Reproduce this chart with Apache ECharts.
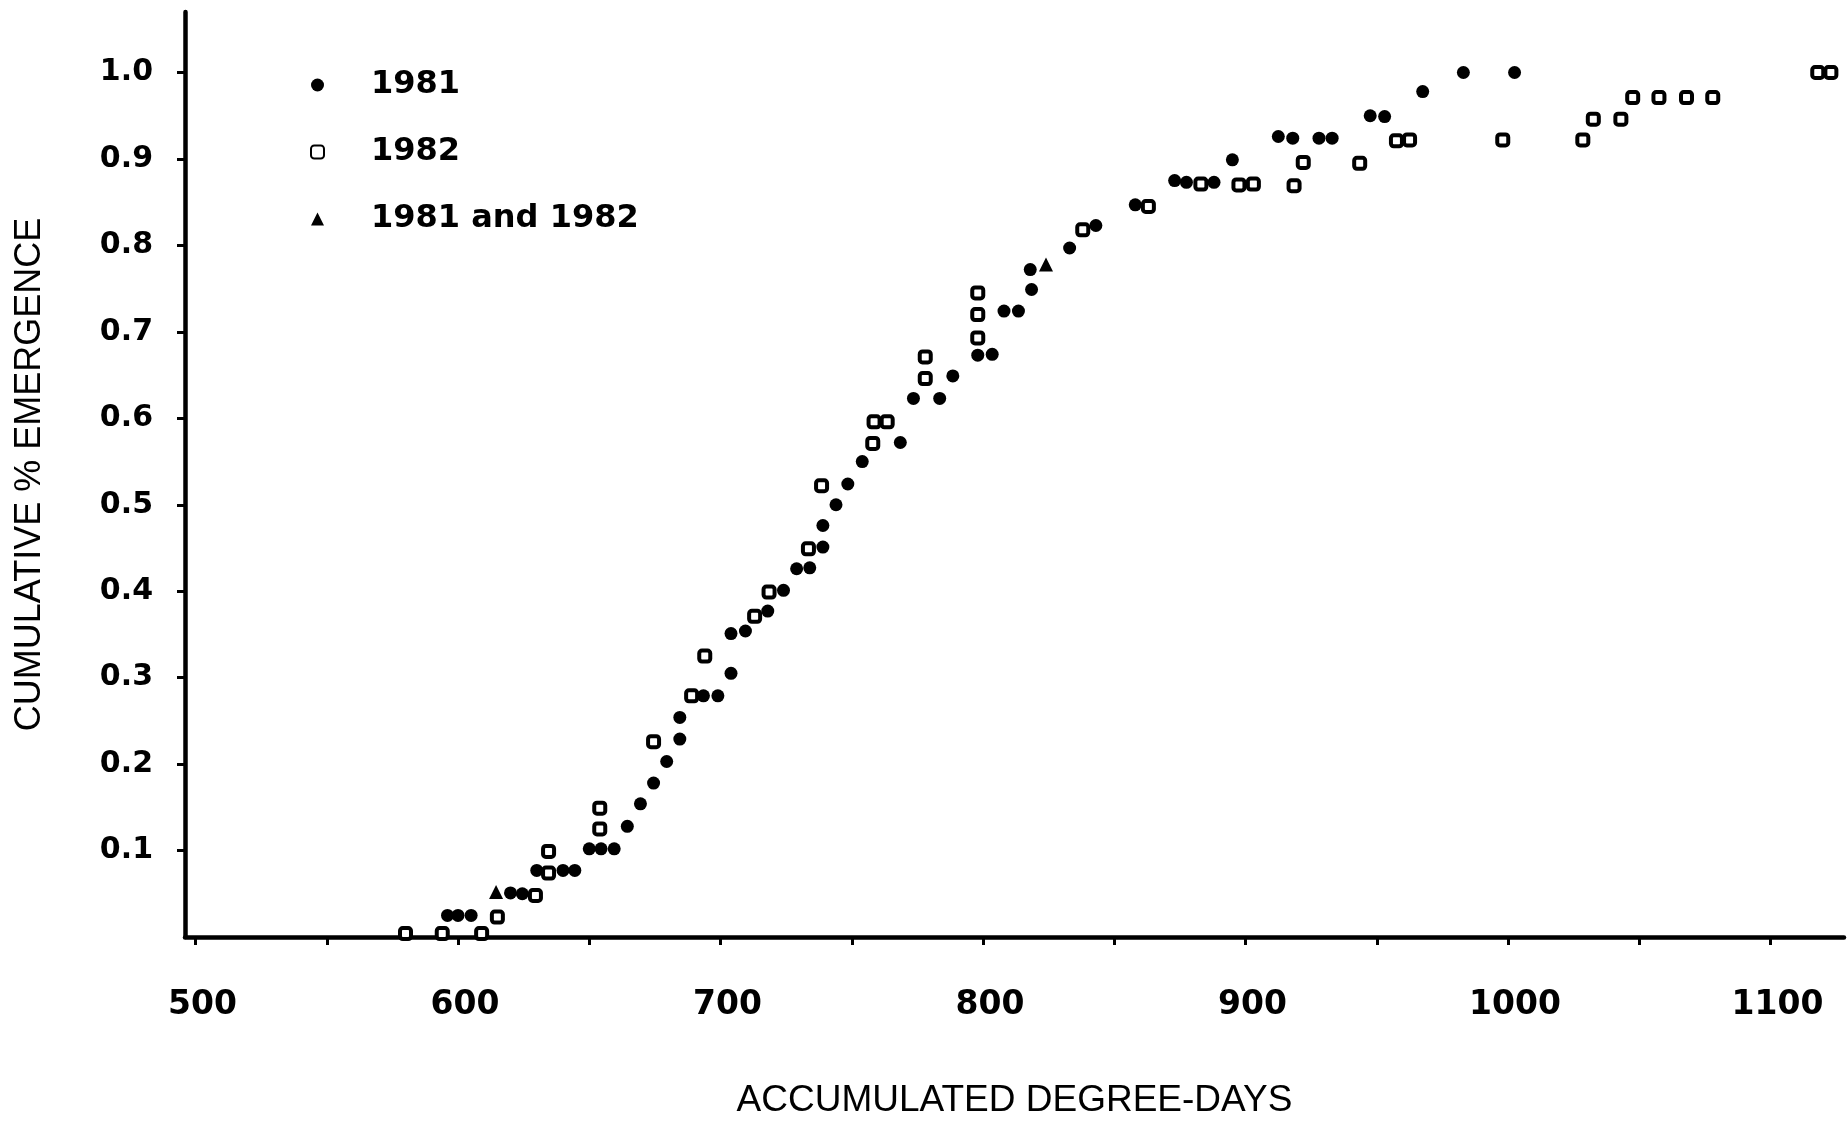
<!DOCTYPE html>
<html>
<head>
    <meta charset="UTF-8">
    <title>Cumulative emergence vs degree-days</title>
</head>
<body style="margin: 0;overflow: hidden;background: #fff;">
<div id="chart" style="width: 1848px;height: 1125px"></div>

<script type="text/javascript" src="https://cdn.jsdelivr.net/npm/echarts@6/dist/echarts.min.js"></script>
<script>
    // accumulated degree-days (x) and cumulative emergence (y)
    var x1981 = [596, 600, 605, 620, 624.5, 630, 640, 644.5, 650, 654.5, 659.5, 664.5, 669.5, 674.5, 679.5, 684.5,
        684.5, 693.5, 699, 704, 704, 709.5, 718, 724, 729, 734, 739, 739, 744, 748.5, 754, 768.5,
        773.5, 783.5, 788.5, 798, 803.5, 808, 813.5, 818.5, 818, 833, 843, 858, 873, 877.5, 888, 895,
        912.5, 918, 928, 933, 947.5, 953, 967.5, 983, 1002.5];
    var y1981 = [0.025, 0.025, 0.025, 0.051, 0.05, 0.077, 0.077, 0.077, 0.102, 0.102, 0.102, 0.128, 0.154, 0.178, 0.203, 0.229,
        0.254, 0.279, 0.279, 0.305, 0.351, 0.354, 0.377, 0.401, 0.426, 0.427, 0.451, 0.476, 0.5, 0.524, 0.55, 0.572,
        0.623, 0.623, 0.649, 0.673, 0.674, 0.724, 0.724, 0.749, 0.772, 0.797, 0.823, 0.847, 0.875, 0.873, 0.873, 0.899,
        0.926, 0.924, 0.924, 0.924, 0.95, 0.949, 0.978, 1.0, 1.0];

    var x1982 = [580, 594, 609, 615, 629.5, 634.5, 634.5, 654, 654, 674.5, 689, 694, 713, 718.5, 733.5, 738.5,
        758, 758.5, 763.5, 778, 778, 798, 798, 798, 838, 863, 883, 897.5, 903, 918.5, 922, 943.5,
        957.5, 962.5, 998, 1028.5, 1032.5, 1043, 1047.5, 1057.5, 1068, 1078, 1118, 1123];
    var y1982 = [0.004, 0.004, 0.004, 0.023, 0.048, 0.074, 0.099, 0.125, 0.149, 0.226, 0.279, 0.325, 0.371, 0.399, 0.449, 0.522,
        0.571, 0.596, 0.596, 0.646, 0.671, 0.693, 0.72, 0.745, 0.818, 0.845, 0.871, 0.87, 0.871, 0.869, 0.896, 0.895,
        0.921, 0.922, 0.922, 0.922, 0.946, 0.946, 0.971, 0.971, 0.971, 0.971, 1.0, 1.0];

    var xBoth = [614.5, 824];
    var yBoth = [0.052, 0.778];

    var xTickValues = [500, 550, 600, 650, 700, 750, 800, 850, 900, 950, 1000, 1050, 1100];
    var xLabelValues = [500, 600, 700, 800, 900, 1000, 1100];
    var yTickValues = [0.1, 0.2, 0.3, 0.4, 0.5, 0.6, 0.7, 0.8, 0.9, 1.0];

    function pairs(xs, ys) {
        return xs.map(function (x, i) {
            return [x, ys[i]];
        });
    }

    var chart = echarts.init(document.getElementById('chart'));
    var option = {
        backgroundColor: '#fff',
        animation: false,
        grid: {
            left: 185,
            right: 4,
            top: 12,
            bottom: 188
        },
        legend: {
            orient: 'vertical',
            left: 305,
            top: 60,
            itemWidth: 13,
            itemHeight: 13,
            itemGap: 27,
            textStyle: {
                color: '#000',
                fontFamily: 'DejaVu Sans',
                fontWeight: 'bold',
                fontSize: 32,
                lineHeight: 40,
                padding: [0, 0, 0, 42]
            },
            data: [
                {name: '1981', icon: 'circle'},
                {name: '1982', icon: 'roundRect'},
                {name: '1981 and 1982', icon: 'triangle'}
            ]
        },
        xAxis: {
            type: 'value',
            min: 496,
            max: 1128,
            name: 'ACCUMULATED DEGREE-DAYS',
            nameLocation: 'middle',
            nameGap: 145,
            nameTextStyle: {
                color: '#000',
                fontFamily: 'Liberation Sans',
                fontSize: 37
            },
            splitLine: {show: false},
            axisLine: {lineStyle: {color: '#000', width: 4.5}},
            axisTick: {
                customValues: xTickValues,
                length: 8,
                lineStyle: {color: '#000', width: 3}
            },
            axisLabel: {
                customValues: xLabelValues,
                margin: 52,
                color: '#000',
                fontFamily: 'DejaVu Sans',
                fontWeight: 'bold',
                fontSize: 33,
                padding: [0, 0, 0, 14],
                formatter: function (v) {
                    return String(v);
                }
            }
        },
        yAxis: {
            type: 'value',
            min: 0,
            max: 1.07,
            name: 'CUMULATIVE % EMERGENCE',
            nameLocation: 'middle',
            nameGap: 137,
            nameTextStyle: {
                color: '#000',
                fontFamily: 'Liberation Sans',
                fontSize: 36
            },
            splitLine: {show: false},
            axisLine: {lineStyle: {color: '#000', width: 4.5}},
            axisTick: {
                customValues: yTickValues,
                length: 8,
                lineStyle: {color: '#000', width: 3}
            },
            axisLabel: {
                customValues: yTickValues,
                margin: 32,
                color: '#000',
                fontFamily: 'DejaVu Sans',
                fontWeight: 'bold',
                fontSize: 30,
                formatter: function (v) {
                    return v.toFixed(1);
                }
            }
        },
        series: [
            {
                name: '1981',
                type: 'scatter',
                symbol: 'circle',
                symbolSize: 13,
                itemStyle: {color: '#000', opacity: 1},
                data: pairs(x1981, y1981)
            },
            {
                name: '1982',
                type: 'scatter',
                symbol: 'roundRect',
                symbolSize: 11,
                itemStyle: {color: '#fff', borderColor: '#000', borderWidth: 4, opacity: 1},
                data: pairs(x1982, y1982)
            },
            {
                name: '1981 and 1982',
                type: 'scatter',
                symbol: 'triangle',
                symbolSize: 14,
                itemStyle: {color: '#000', opacity: 1},
                data: pairs(xBoth, yBoth)
            }
        ]
    };
    chart.setOption(option);
</script>
</body>
</html>
